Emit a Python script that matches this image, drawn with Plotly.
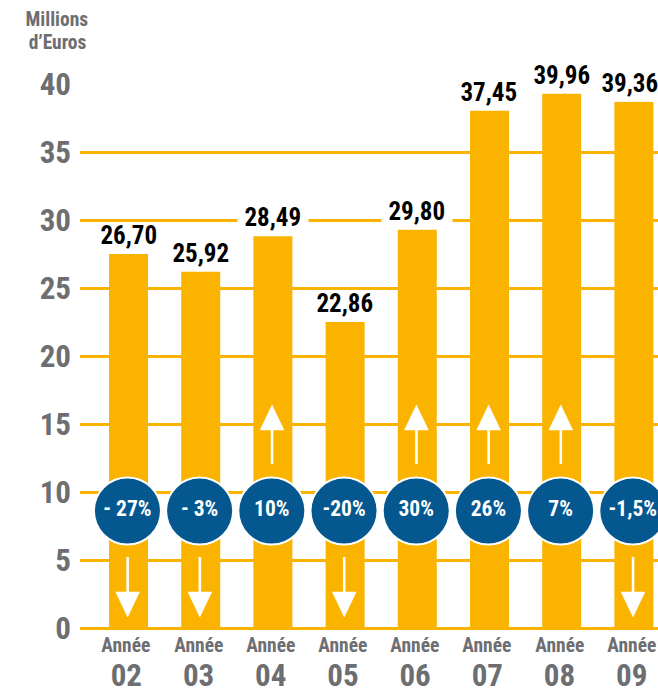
import plotly.graph_objects as go

years = [2, 3, 4, 5, 6, 7, 8, 9]
year_labels = ["02", "03", "04", "05", "06", "07", "08", "09"]
bar_heights = [27.5, 26.2, 28.8, 22.5, 29.3, 38.05, 39.3, 38.7]
value_labels = ["26,70", "25,92", "28,49", "22,86", "29,80", "37,45", "39,96", "39,36"]
change_labels = ["- 27%", "- 3%", "10%", "-20%", "30%", "26%", "7%", "-1,5%"]
change_dirs = [-1, -1, 1, -1, 1, 1, 1, -1]
y_ticks = [0, 5, 10, 15, 20, 25, 30, 35, 40]

FONT = "Roboto"
GOLD = "#FAB400"
GREY = "#6D6E71"
BLUE = "#04588F"
CIRCLE_Y = 8.6
UP = dict(shaft=12.06, base=14.56, tip=16.4)
DOWN = dict(shaft=5.22, base=2.65, tip=0.81)
HEAD_HALF = 0.165
LABEL_SPAN = 2.3
PH = 691 - 84 - 63
PW = 658 - 80

fig = go.Figure()
fig.add_bar(x=years, y=bar_heights, width=0.54, marker=dict(color=GOLD, line=dict(width=0)),
            hoverinfo="skip")

sx, sy, hx, hy = [], [], [], []
for x, d in zip(years, change_dirs):
    a = UP if d > 0 else DOWN
    cx = x - 0.012
    sx += [cx, cx, None]
    sy += [a["shaft"], a["base"], None]
    hx += [cx - HEAD_HALF, cx + HEAD_HALF, cx, cx - HEAD_HALF, None]
    hy += [a["base"], a["base"], a["tip"], a["base"], None]
fig.add_scatter(x=sx, y=sy, mode="lines", line=dict(color="white", width=2.6), hoverinfo="skip")
fig.add_scatter(x=hx, y=hy, mode="lines", fill="toself", fillcolor="white",
                line=dict(color="white", width=0.5), hoverinfo="skip")

fig.add_scatter(
    x=[y - 0.015 for y in years], y=[CIRCLE_Y] * len(years), mode="markers+text", text=change_labels,
    textposition="middle center",
    textfont=dict(family=FONT, size=21.5, color="white", weight="bold"),
    marker=dict(size=67, color=BLUE, line=dict(color="white", width=2)),
    cliponaxis=False, hoverinfo="skip",
)

annotations = []
for i, (x, h, t) in enumerate(zip(years, bar_heights, value_labels)):
    crosses_grid = any(h < tick < h + LABEL_SPAN for tick in y_ticks)
    annotations.append(dict(
        x=x, y=h, xref="x", yref="y", text=t, showarrow=False, yanchor="bottom",
        yshift=0, xshift=-4 if i == len(years) - 1 else 0,
        bgcolor="white" if crosses_grid else "rgba(0,0,0,0)", borderpad=3,
        font=dict(family=FONT, size=25, color="black", weight="bold"),
    ))
for x in years:
    annotations.append(dict(
        x=x - 0.03, y=(691 - 645 - 63) / PH, xref="x", yref="paper", text="Année", showarrow=False,
        yanchor="middle", font=dict(family=FONT, size=19.5, color=GREY, weight="bold"),
    ))
for line, py in (("Millions", 20), ("d’Euros", 42)):
    annotations.append(dict(
        x=(57 - 80) / PW, y=(691 - py - 63) / PH, xref="paper", yref="paper",
        xanchor="center", yanchor="middle", text=line, showarrow=False,
        font=dict(family=FONT, size=19.5, color=GREY, weight="bold"),
    ))

fig.update_layout(
    width=658, height=691, autosize=False, showlegend=False,
    paper_bgcolor="white", plot_bgcolor="white",
    margin=dict(l=80, r=0, t=84, b=63),
    annotations=annotations,
    xaxis=dict(
        range=[1.328, 9.334], tickmode="array", tickvals=[y - 0.03 for y in years], ticktext=year_labels,
        showgrid=False, zeroline=False, ticks="", ticklabelstandoff=26, automargin=False,
        tickfont=dict(family=FONT, size=31, color=GREY, weight="bold"),
    ),
    yaxis=dict(
        range=[0, 40], tickmode="array", tickvals=y_ticks, automargin=False,
        showgrid=True, gridcolor=GOLD, gridwidth=2.5, zeroline=True, zerolinecolor=GOLD,
        zerolinewidth=3, ticks="", ticklabelstandoff=8,
        tickfont=dict(family=FONT, size=31, color=GREY, weight="bold"),
    ),
)
fig.write_html("out.html", config=dict(displayModeBar=False),
               post_script="document.body.style.margin='0';var s=document.createElement('style');s.textContent='svg text{font-stretch:75%}';document.head.appendChild(s);")
